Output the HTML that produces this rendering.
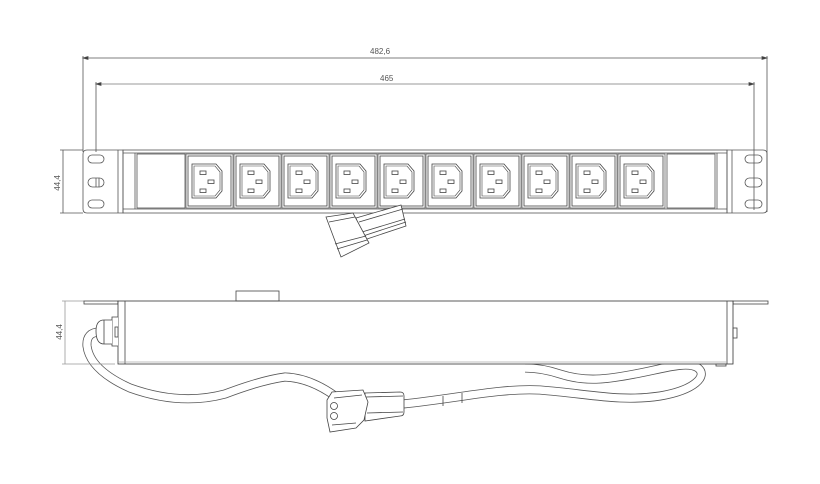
<!DOCTYPE html>
<html><head><meta charset="utf-8"><style>
html,body{margin:0;padding:0;background:#fff;}
svg{display:block;}
text{font-family:"Liberation Sans",sans-serif;fill:#555;font-size:8px;}
</style></head><body>
<svg width="820" height="484" viewBox="0 0 820 484" xmlns="http://www.w3.org/2000/svg">
<defs>
<g id="outlet" fill="none" stroke="#444" stroke-width="0.8">
  <rect x="0" y="0" width="47" height="54" stroke="#666"/>
  <rect x="2" y="2" width="43" height="50"/>
  <path d="M6 10 H30 L36 17 V37 L30 44 H6 Z"/>
  <path d="M8 12 H29 L34 18 V36 L29 42 H8 Z" stroke-width="0.6"/>
  <rect x="14" y="17" width="6" height="3.5"/>
  <rect x="22" y="26" width="6" height="3.5"/>
  <rect x="14" y="35" width="6" height="3.5"/>
</g>
</defs>
<g fill="none" stroke="#555" stroke-width="0.8">
<line x1="83" y1="58" x2="767" y2="58"/>
<line x1="96" y1="84" x2="754" y2="84" stroke="#999" stroke-width="1"/>
<line x1="83" y1="56" x2="83" y2="152"/>
<line x1="767" y1="56" x2="767" y2="212"/>
<line x1="96" y1="82" x2="96" y2="152"/>
<line x1="754" y1="82" x2="754" y2="210"/>
<path d="M83 58 l5 -1.5 v3 z M767 58 l-5 -1.5 v3 z M96 84 l5 -1.5 v3 z M754 84 l-5 -1.5 v3 z" fill="#333"/>
<line x1="63" y1="150" x2="63" y2="213"/>
<line x1="60" y1="150" x2="83" y2="150"/>
<line x1="60" y1="213" x2="83" y2="213"/>
<path d="M87 150 H123 V213 H87 Q83 213 83 209 V154 Q83 150 87 150 Z"/>
<path d="M727 150 H763 Q767 150 767 154 V209 Q767 213 763 213 H727 Z"/>
<line x1="732" y1="150" x2="732" y2="213"/>
<line x1="118" y1="150" x2="118" y2="213"/>
<rect x="123" y="150" width="604" height="63"/>
<line x1="123" y1="153" x2="727" y2="153"/>
<line x1="123" y1="209" x2="727" y2="209"/>
<line x1="135" y1="153" x2="135" y2="209"/>
<line x1="717" y1="153" x2="717" y2="209"/>
<rect x="137" y="154" width="48" height="54"/>
<rect x="667" y="154" width="48" height="54"/>
<rect x="88" y="155" width="16" height="8" rx="4"/>
<rect x="88" y="178" width="16" height="9" rx="4.5"/>
<rect x="88" y="200" width="16" height="8" rx="4"/>
<line x1="96" y1="178" x2="96" y2="187"/><line x1="99" y1="178" x2="99" y2="187"/>
<rect x="745" y="155" width="17" height="8" rx="4"/>
<rect x="745" y="178" width="17" height="9" rx="4.5"/>
<rect x="745" y="200" width="17" height="8" rx="4"/>
</g>
<use href="#outlet" x="186" y="154"/>
<use href="#outlet" x="234" y="154"/>
<use href="#outlet" x="282" y="154"/>
<use href="#outlet" x="330" y="154"/>
<use href="#outlet" x="378" y="154"/>
<use href="#outlet" x="426" y="154"/>
<use href="#outlet" x="474" y="154"/>
<use href="#outlet" x="522" y="154"/>
<use href="#outlet" x="570" y="154"/>
<use href="#outlet" x="618" y="154"/>
<g fill="#fff" stroke="#444" stroke-width="0.8">
<path d="M356 218 L401 205 L406 226 L364 240 Z"/>
<path d="M359 222 L403 209 M362 232 L405 219 M363 236 L406 222" fill="none"/>
<path d="M326 217 L353 213 L369 243 L341 257 Z"/>
<path d="M329 222 L355 217 M335 244 L366 236 M337 249 L367 240" fill="none"/>
</g>
<text x="370" y="54">482,6</text>
<text x="380" y="81">465</text>
<text transform="translate(60,183) rotate(-90)" text-anchor="middle">44,4</text>
<g fill="none" stroke-linecap="butt">
<path d="M100 332 Q86 332 87 346 Q90 370 130 388 Q180 406 225 394 Q262 380 285 377 Q310 378 335 396" stroke="#555" stroke-width="9"/>
<path d="M100 332 Q86 332 87 346 Q90 370 130 388 Q180 406 225 394 Q262 380 285 377 Q310 378 335 396" stroke="#fff" stroke-width="7.4"/>
<path d="M403 404 C460 398 500 388 540 390 C590 394 620 402 660 396 C695 390 708 376 698 368 C688 361 665 368 640 373 C605 380 585 382 560 374 C545 369 535 368 525 368" stroke="#555" stroke-width="9"/>
<path d="M403 404 C460 398 500 388 540 390 C590 394 620 402 660 396 C695 390 708 376 698 368 C688 361 665 368 640 373 C605 380 585 382 560 374 C545 369 535 368 525 368" stroke="#fff" stroke-width="7.4"/>
</g>
<g fill="none" stroke="#444" stroke-width="0.8">
<line x1="65" y1="301" x2="65" y2="364" stroke="#999"/>
<line x1="62" y1="301" x2="84" y2="301" stroke="#999"/>
<line x1="62" y1="364" x2="115" y2="364" stroke="#999"/>
<rect x="84" y="301" width="34" height="3"/>
<rect x="733" y="301" width="35" height="3"/>
<rect x="118" y="301" width="615" height="63" stroke="#333" fill="#fff"/>
<line x1="125" y1="301" x2="125" y2="364"/>
<line x1="727" y1="301" x2="727" y2="364"/>
<line x1="118" y1="362" x2="727" y2="362" stroke="#aaa"/>
<rect x="236" y="291" width="43" height="10"/>
<rect x="733" y="328" width="4" height="10"/>
<rect x="716" y="364" width="10" height="2"/>
<path d="M118 317 H112 V346 H118" fill="#fff"/>
<path d="M112 320 H104 Q96 320 96 331 Q96 344 104 344 H112" fill="#fff"/>
<line x1="104" y1="320" x2="104" y2="344"/>
<rect x="115" y="327" width="3" height="10"/>
<line x1="443" y1="396" x2="443" y2="406"/>
<line x1="462" y1="393" x2="462" y2="403"/>
<path d="M365 393 L400 392 Q404 392 404 396 L404 412 Q404 416 400 416 L365 421 Z" fill="#fff"/>
<path d="M366 397 L403 396 M367 413 L403 412"/>
<path d="M332 392 L363 390 L368 402 L364 420 L356 428 L330 432 L327 418 L327 400 Z" fill="#fff"/>
<path d="M334 398 L362 395 M332 425 L356 423"/>
<circle cx="334" cy="406" r="3.5"/>
<circle cx="334" cy="416" r="3.5"/>
</g>
<text transform="translate(62,332) rotate(-90)" text-anchor="middle" fill="#999">44,4</text>
</svg>
</body></html>
